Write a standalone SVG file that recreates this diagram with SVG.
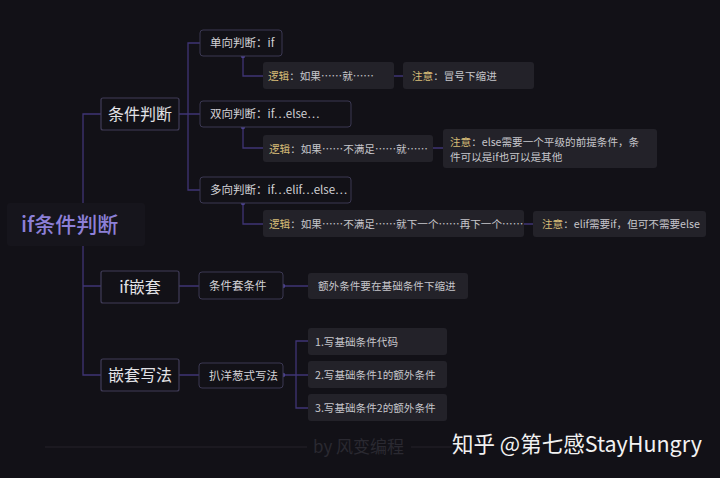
<svg xmlns="http://www.w3.org/2000/svg" width="720" height="478" viewBox="0 0 720 478">
<style>
text{font-family:"Noto Sans CJK SC","Noto Sans",sans-serif;}
.l1 rect{fill:#121117;stroke:#403c58;stroke-width:1.2;}
.l1 text{font-size:16px;fill:#e2e2e6;text-anchor:middle;}
.l2 rect{fill:#121117;stroke:#3b3852;stroke-width:1;}
.l2 text{font-size:11.5px;fill:#d2d2d6;}
.nt rect{fill:#232229;}
.nt text{font-size:10.6px;fill:#c6c6cb;}
.k{fill:#d8bd78;}
.cn path{fill:none;stroke:#3f3575;stroke-width:1.3;}
.cn circle{fill:#4c4290;}
</style>
<rect width="720" height="478" fill="#121117"/>
<g class="cn" id="connectors">
<path d="M101,114 H83 V375 H101 M83,286 H101"/>
<path d="M179,114 H188 M200,43 H188 V190 H200 M188,114 H200"/>
<path d="M243,56 V76 H263 M394,76 H403"/>
<path d="M243,127 V148 H263 M433,148 H443"/>
<path d="M243,203 V224 H263 M524,224 H533"/>
<path d="M179,286 H199 M283,286 H308"/>
<path d="M179,375 H199 M283,375 H308 M308,341 H296 V408 H308"/>
<circle cx="243" cy="56" r="2.2"/>
<circle cx="243" cy="127" r="2.2"/>
<circle cx="243" cy="203" r="2.2"/>
<circle cx="283" cy="286" r="2.2"/>
<circle cx="283" cy="375" r="2.2"/>
</g>
<g id="root">
<rect x="7" y="203" width="138" height="43" rx="3" fill="#16151c"/>
<text x="21" y="232" font-size="21" fill="#8d80d8" font-weight="500">if条件判断</text>
</g>
<g id="n-cond" class="l1"><rect x="101" y="98" width="78" height="32" rx="2"/><text x="140" y="120">条件判断</text></g>
<g id="n-nest" class="l1"><rect x="101" y="271" width="78" height="32" rx="2"/><text x="140" y="293">if嵌套</text></g>
<g id="n-write" class="l1"><rect x="101" y="359" width="78" height="32" rx="2"/><text x="140" y="381">嵌套写法</text></g>
<g id="n-single" class="l2"><rect x="200" y="30" width="82" height="26" rx="3"/><text x="210" y="47">单向判断：if</text></g>
<g id="n-double" class="l2"><rect x="200" y="101" width="151" height="26" rx="3"/><text x="210" y="118">双向判断：if…else…</text></g>
<g id="n-multi" class="l2"><rect x="200" y="177" width="151" height="26" rx="3"/><text x="210" y="194">多向判断：if…elif…else…</text></g>
<g id="n-tt" class="l2"><rect x="199" y="272" width="84" height="27" rx="3"/><text x="209" y="290">条件套条件</text></g>
<g id="n-onion" class="l2"><rect x="199" y="363" width="84" height="25" rx="3"/><text x="209" y="380">扒洋葱式写法</text></g>
<g id="n-logic1" class="nt"><rect x="263" y="62" width="131" height="27" rx="3"/><text x="268" y="80"><tspan class="k">逻辑</tspan>：如果……就……</text></g>
<g id="n-note1" class="nt"><rect x="403" y="62" width="131" height="27" rx="3"/><text x="412" y="80"><tspan class="k">注意</tspan>：冒号下缩进</text></g>
<g id="n-logic2" class="nt"><rect x="263" y="135" width="170" height="27" rx="3"/><text x="269" y="153"><tspan class="k">逻辑</tspan>：如果……不满足……就……</text></g>
<g id="n-note2" class="nt"><rect x="443" y="129" width="214" height="39" rx="3"/><text x="450" y="146"><tspan class="k">注意</tspan>：else需要一个平级的前提条件，条</text><text x="450" y="161">件可以是if也可以是其他</text></g>
<g id="n-logic3" class="nt"><rect x="263" y="210" width="261" height="27" rx="3"/><text x="269" y="228"><tspan class="k">逻辑</tspan>：如果……不满足……就下一个……再下一个……</text></g>
<g id="n-note3" class="nt"><rect x="533" y="211" width="173" height="26" rx="3"/><text x="542" y="228"><tspan class="k">注意</tspan>：elif需要if，但可不需要else</text></g>
<g id="n-extra" class="nt"><rect x="308" y="273" width="160" height="26" rx="3"/><text x="318" y="290">额外条件要在基础条件下缩进</text></g>
<g id="n-s1" class="nt"><rect x="308" y="328" width="139" height="27" rx="3"/><text x="315" y="346">1.写基础条件代码</text></g>
<g id="n-s2" class="nt"><rect x="308" y="361" width="139" height="27" rx="3"/><text x="315" y="379">2.写基础条件1的额外条件</text></g>
<g id="n-s3" class="nt"><rect x="308" y="394" width="139" height="27" rx="3"/><text x="315" y="412">3.写基础条件2的额外条件</text></g>
<g id="footer">
<path d="M45,447 H307 M411,447 H452" stroke="#24232a" stroke-width="1" fill="none"/>
<text x="313" y="453" font-size="17" fill="#2a2931">by 风变编程</text>
<text x="452" y="452" font-size="21.5" fill="#f2f2f2">知乎 @第七感StayHungry</text>
</g>
</svg>
